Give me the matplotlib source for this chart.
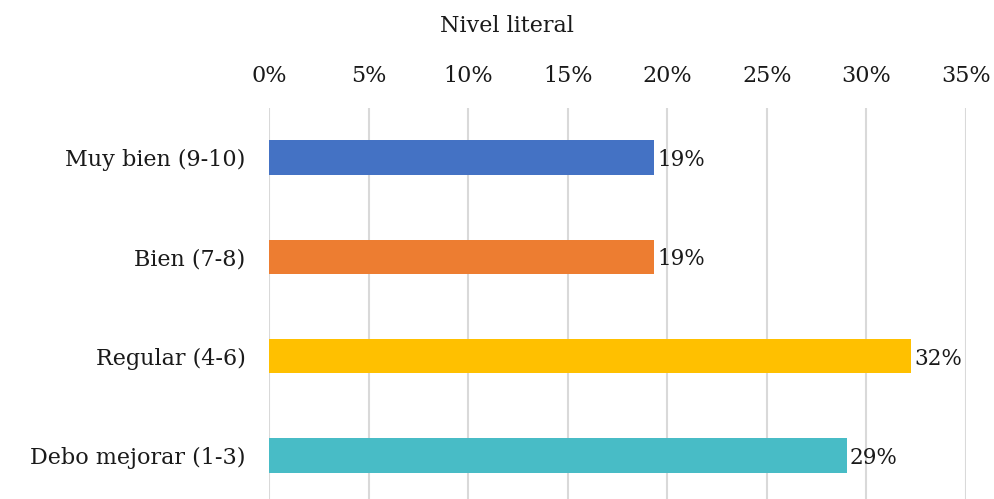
import matplotlib.pyplot as plt
from matplotlib.ticker import FuncFormatter

# data: 31 students, counts per category
categorias = ["Muy bien (9-10)", "Bien (7-8)", "Regular (4-6)", "Debo mejorar (1-3)"]
valores = [6 / 31, 6 / 31, 10 / 31, 9 / 31]
colores = ["#4472C4", "#ED7D31", "#FFC000", "#48BCC6"]
ticks = [0, 0.05, 0.10, 0.15, 0.20, 0.25, 0.30, 0.35]

plt.rcParams['font.family'] = ['DejaVu Serif']

fig = plt.figure(figsize=(9.94, 4.99), dpi=100)
ax = fig.add_axes([269 / 994, -6 / 499, 697 / 994, 397 / 499])

y = list(range(len(categorias)))
ax.barh(y, valores, height=0.35, color=colores, zorder=3)

for yi, v in zip(y, valores):
    ax.annotate(f"{v * 100:.0f}%", (v, yi), xytext=(2, 0), textcoords="offset points",
                va="center_baseline", ha="left", fontsize=15.5, color="#1a1a1a")

ax.set_xlim(0, 0.35)
ax.set_ylim(len(categorias) - 0.5, -0.5)
ax.set_xticks(ticks)
ax.xaxis.set_major_formatter(FuncFormatter(lambda x, p: f"{x * 100:.0f}%"))
ax.xaxis.tick_top()
ax.set_yticks(y)
ax.set_yticklabels(categorias)
ax.tick_params(length=0, labelsize=16, labelcolor="#1a1a1a")
ax.tick_params(axis="x", pad=15)
ax.tick_params(axis="y", pad=17)
ax.grid(axis="x", color="#D9D9D9", linewidth=1.5, zorder=0)
for s in ax.spines.values():
    s.set_visible(False)

fig.text(507 / 994, 1 - 26 / 499, "Nivel literal", ha="center", va="center",
         fontsize=16, color="#1a1a1a")

fig.savefig("out.png", dpi=100)
